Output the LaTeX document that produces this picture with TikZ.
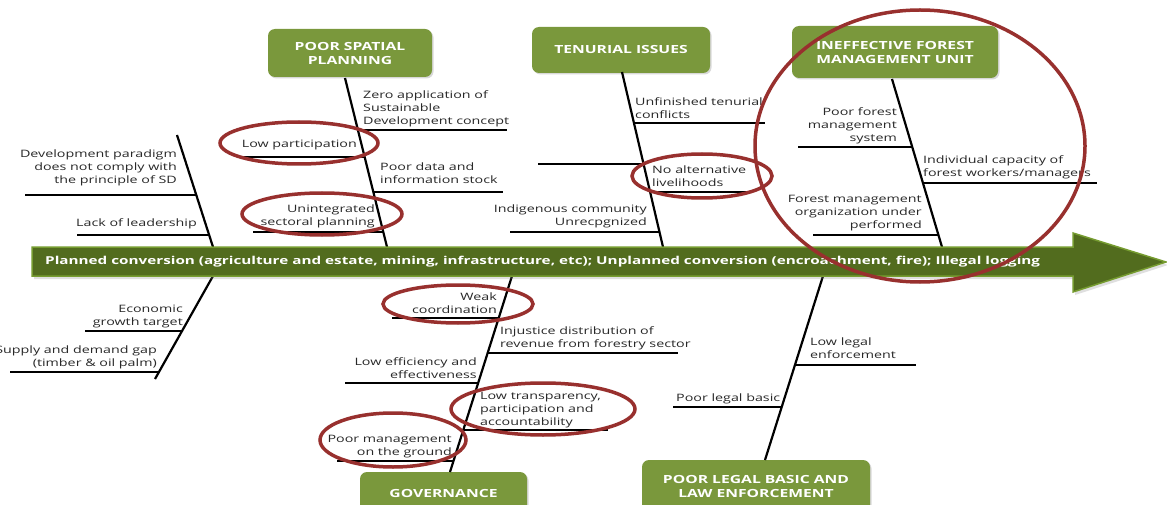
\documentclass[tikz,border=0pt]{standalone}
\usepackage{fontspec}
\setmainfont[FakeStretch=1.4]{Open Sans}
\usetikzlibrary{shadows,shapes.geometric}

\definecolor{boxgreen}{RGB}{122,152,60}
\definecolor{arrowdark}{RGB}{82,108,30}
\definecolor{arrowedge}{RGB}{118,156,48}
\definecolor{ringred}{RGB}{152,48,46}
\definecolor{labelgrey}{RGB}{40,40,40}

\tikzset{
  cause/.style={rectangle, rounded corners=7pt, fill=boxgreen, text=white,
    font=\bfseries\fontsize{11.2}{14}\selectfont, align=center, inner sep=0pt,
    drop shadow={opacity=0.3, shadow xshift=1.5pt, shadow yshift=-1.5pt}},
  spine/.style={line width=2.2pt, black},
  twig/.style={line width=1.8pt, black},
  lbl/.style={inner sep=0pt, text=labelgrey, font=\fontsize{10.2}{13}\selectfont,
    execute at end node={\vphantom{gy}}},
  lblr/.style={lbl, align=right, anchor=south east},
  lbll/.style={lbl, align=left, anchor=south west},
  ring/.style={ellipse, draw=ringred, line width=3.5pt, inner sep=0pt},
  flowtext/.style={inner sep=0pt, text=white, font=\bfseries\fontsize{10.9}{12}\selectfont}
}

\begin{document}
\begin{tikzpicture}[x=1pt, y=-1pt]
\useasboundingbox (0,0) rectangle (1167,505);
\clip (0,0) rectangle (1167,505);
\fill[white] (0,0) rectangle (1167,505);

% ---- category boxes ----
\node[cause, minimum width=164pt, minimum height=48pt] (spatial) at (350,53) {POOR SPATIAL\\PLANNING};
\node[cause, minimum width=178pt, minimum height=46pt] (tenure) at (621,50) {TENURIAL ISSUES};
\node[cause, minimum width=206pt, minimum height=52pt] (fmu) at (895,52) {INEFFECTIVE FOREST\\MANAGEMENT UNIT};
\node[cause, minimum width=167pt, minimum height=42pt] (gov) at (443.5,493) {GOVERNANCE};
\node[cause, minimum width=228pt, minimum height=52pt] (legal) at (756,486) {POOR LEGAL BASIC AND\\LAW ENFORCEMENT};

% ---- spine end points ----
\coordinate (spT) at (345,78);   \coordinate (spB) at (387,247);
\coordinate (ldT) at (177,135);  \coordinate (ldB) at (213,247);
\coordinate (tnT) at (622,72);   \coordinate (tnB) at (663,247);
\coordinate (fmT) at (892,79);   \coordinate (fmB) at (942,247);
\coordinate (ecT) at (213,276);  \coordinate (ecB) at (155,379);
\coordinate (gvT) at (512,276);  \coordinate (gvB) at (450,472);
\coordinate (lgT) at (823,276);  \coordinate (lgB) at (765,460);

\draw[spine] (spT) -- (spB);
\draw[spine] (ldT) -- (ldB);
\draw[spine] (tnT) -- (tnB);
\draw[spine] (fmT) -- (fmB);
\draw[spine] (ecT) -- (ecB);
\draw[spine] (gvT) -- (gvB);
\draw[spine] (lgT) -- (lgB);

% ---- main flow arrow ----
\coordinate (aL1) at (32,247);   \coordinate (aH1) at (1073,247);
\coordinate (aH2) at (1073,233); \coordinate (aTip) at (1166,262);
\coordinate (aH3) at (1073,292); \coordinate (aH4) at (1073,276);
\coordinate (aL2) at (32,276);
\filldraw[fill=arrowdark, draw=arrowedge, line width=1.5pt, line join=miter,
  drop shadow={opacity=0.25, shadow xshift=2pt, shadow yshift=-3pt}]
  (aL1) -- (aH1) -- (aH2) -- (aTip) -- (aH3) -- (aH4) -- (aL2) -- cycle;
\node[flowtext, anchor=west] (flow) at (45,262)
  {Planned conversion (agriculture and estate, mining, infrastructure, etc); Unplanned conversion (encroachment, fire); Illegal logging};

% ---- unnamed left cause ----
\coordinate (l1a) at (25,195);  \coordinate (l1b) at (196,195);
\coordinate (l2a) at (77,235);  \coordinate (l2b) at (209,235);
\draw[twig] (l1a) -- (l1b);
\draw[twig] (l2a) -- (l2b);
\node[lblr] (devpar) at (177,186) {Development paradigm\\does not comply with\\the principle of SD};
\node[lblr] (lead) at (197,229) {Lack of leadership};

% ---- poor spatial planning ----
\coordinate (s1a) at (358,130); \coordinate (s1b) at (507,130);
\coordinate (s2a) at (237,157); \coordinate (s2b) at (365,157);
\coordinate (s3a) at (373,192); \coordinate (s3b) at (503,192);
\coordinate (s4a) at (253,232); \coordinate (s4b) at (383,232);
\draw[twig] (s1a) -- (s1b);
\draw[twig] (s2a) -- (s2b);
\draw[twig] (s3a) -- (s3b);
\draw[twig] (s4a) -- (s4b);
\node[lbll] (zero) at (363,127) {Zero application of\\Sustainable\\Development concept};
\node[lblr] (lowpart) at (357,150) {Low participation};
\node[lbll] (data) at (380,186) {Poor data and\\information stock};
\node[lblr] (unint) at (375,228) {Unintegrated\\sectoral planning};

% ---- tenurial issues ----
\coordinate (t1a) at (634,123); \coordinate (t1b) at (765,123);
\coordinate (t2a) at (538,164); \coordinate (t2b) at (644,164);
\coordinate (t3a) at (650,192); \coordinate (t3b) at (747,192);
\coordinate (t4a) at (510,232); \coordinate (t4b) at (660,232);
\draw[twig] (t1a) -- (t1b);
\draw[twig] (t2a) -- (t2b);
\draw[twig] (t3a) -- (t3b);
\draw[twig] (t4a) -- (t4b);
\node[lbll] (unfin) at (635,121) {Unfinished tenurial\\conflicts};
\node[lbll] (noalt) at (652,189) {No alternative\\livelihoods};
\node[lblr] (indig) at (647,228) {Indigenous community\\Unrecpgnized};

% ---- ineffective forest management unit ----
\coordinate (f1a) at (798,147); \coordinate (f1b) at (912,147);
\coordinate (f2a) at (923,183); \coordinate (f2b) at (1097,183);
\coordinate (f3a) at (813,235); \coordinate (f3b) at (938,235);
\draw[twig] (f1a) -- (f1b);
\draw[twig] (f2a) -- (f2b);
\draw[twig] (f3a) -- (f3b);
\node[lblr] (pfms) at (897,144) {Poor forest\\management\\system};
\node[lbll] (indiv) at (923,179) {Individual capacity of\\forest workers/managers};
\node[lblr] (fmorg) at (922,231) {Forest management\\organization under\\performed};

% ---- unnamed lower-left cause ----
\coordinate (e1a) at (85,331);  \coordinate (e1b) at (182,331);
\coordinate (e2a) at (10,372);  \coordinate (e2b) at (159,372);
\draw[twig] (e1a) -- (e1b);
\draw[twig] (e2a) -- (e2b);
\node[lblr] (econ) at (183,328) {Economic\\growth target};
\node[lblr] (gap) at (157,369) {Supply and demand gap\\(timber \& oil palm)};

% ---- governance ----
\coordinate (g1a) at (392,318); \coordinate (g1b) at (499,318);
\coordinate (g2a) at (488,353); \coordinate (g2b) at (678,353);
\coordinate (g3a) at (345,383); \coordinate (g3b) at (478,383);
\coordinate (g4a) at (463,430); \coordinate (g4b) at (608,430);
\coordinate (g5a) at (337,461); \coordinate (g5b) at (454,461);
\draw[twig] (g1a) -- (g1b);
\draw[twig] (g2a) -- (g2b);
\draw[twig] (g3a) -- (g3b);
\draw[twig] (g4a) -- (g4b);
\draw[twig] (g5a) -- (g5b);
\node[lblr] (weak) at (497,316) {Weak\\coordination};
\node[lbll] (injust) at (500,350) {Injustice distribution of\\revenue from forestry sector};
\node[lblr] (loweff) at (477,381) {Low efficiency and\\effectiveness};
\node[lbll] (transp) at (480,428) {Low transparency,\\participation and\\accountability};
\node[lblr] (ground) at (452,458) {Poor management\\on the ground};

% ---- poor legal basic and law enforcement ----
\coordinate (p1a) at (795,365); \coordinate (p1b) at (916,365);
\coordinate (p2a) at (673,407); \coordinate (p2b) at (782,407);
\draw[twig] (p1a) -- (p1b);
\draw[twig] (p2a) -- (p2b);
\node[lbll] (lowlegal) at (810,361) {Low legal\\enforcement};
\node[lbll] (basic) at (676,404) {Poor legal basic};

% ---- red highlight rings ----
\node[ring, minimum width=158pt, minimum height=42pt] (rPart) at (299,143) {};
\node[ring, minimum width=160pt, minimum height=42pt] (rUnint) at (322,214) {};
\node[ring, minimum width=140pt, minimum height=44pt] (rLive) at (702,176) {};
\node[ring, minimum width=330pt, minimum height=272pt] (rFmu) at (920,146) {};
\node[ring, minimum width=150pt, minimum height=38pt] (rWeak) at (458,304) {};
\node[ring, minimum width=184pt, minimum height=52pt] (rTransp) at (543,409) {};
\node[ring, minimum width=146pt, minimum height=54pt] (rGround) at (393,440) {};
\end{tikzpicture}
\end{document}
